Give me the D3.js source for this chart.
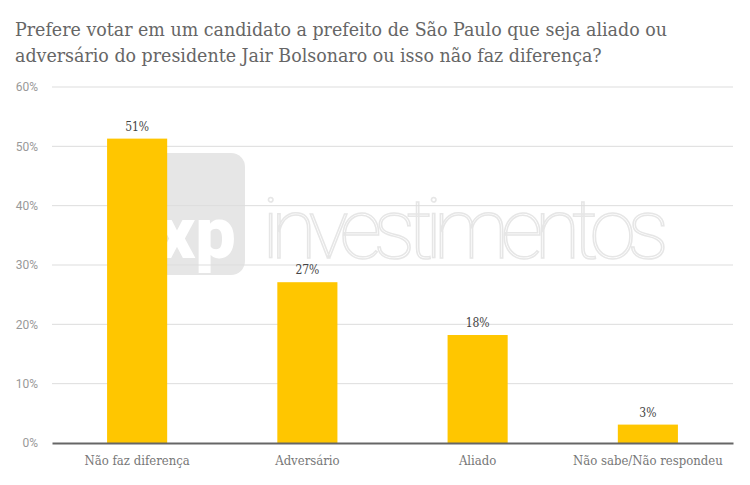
<!DOCTYPE html>
<html><head><meta charset="utf-8">
<script src="https://cdn.jsdelivr.net/npm/d3@7"></script>
<style>
body{margin:0;background:#fff;}
svg{display:block;}
</style></head>
<body>
<svg id="chart" width="750" height="485"></svg>
<script>
const titleLines = ["Prefere votar em um candidato a prefeito de São Paulo que seja aliado ou",
                    "adversário do presidente Jair Bolsonaro ou isso não faz diferença?"];
const categories = ["Não faz diferença", "Adversário", "Aliado", "Não sabe/Não respondeu"];
const values = [51.3, 27.1, 18.2, 3.1];
const valueLabels = ["51%", "27%", "18%", "3%"];
const yTicks = [0, 10, 20, 30, 40, 50, 60];

const serif = "'DejaVu Serif Condensed', 'DejaVu Serif', serif";
const svg = d3.select("#chart");
const m = {left: 52, right: 17, top: 87, bottom: 42};
const W = 750, H = 485;

const x = d3.scaleBand().domain(categories).range([m.left, W - m.right]).paddingInner(0.647).paddingOuter(0.3235);
const y = d3.scaleLinear().domain([0, 60]).range([H - m.bottom, m.top]);

// title
svg.append("g").selectAll("text").data(titleLines).join("text")
  .attr("x", 15).attr("y", (d, i) => 36 + i * 26)
  .attr("font-family", serif).attr("font-size", 19.4).attr("fill", "#666")
  .text(d => d);

// watermark
const wm = svg.append("g");
wm.append("rect").attr("x", 150).attr("y", 153).attr("width", 95).attr("height", 122).attr("rx", 14).attr("fill", "#e6e6e6");
wm.append("text").attr("x", 197).attr("y", 258).attr("text-anchor", "middle")
  .attr("font-family", "Roboto, sans-serif").attr("font-weight", 900).attr("font-size", 72).attr("fill", "#fff").text("xp");
wm.append("text").attr("x", 262).attr("y", 258)
  .attr("font-family", "Roboto, sans-serif").attr("font-weight", 100).attr("font-size", 84)
  .attr("fill", "none").attr("stroke", "#e6e6e6").attr("stroke-width", 1.5).attr("textLength", 407)
  .text("investimentos");

// grid
svg.append("g").selectAll("line").data(yTicks.filter(d => d > 0)).join("line")
  .attr("x1", m.left).attr("x2", W - m.right)
  .attr("y1", d => y(d)).attr("y2", d => y(d))
  .attr("stroke", "#ddd").attr("stroke-width", 1);

// y axis labels
const yAxis = d3.axisLeft(y).tickValues(yTicks).tickFormat(d => d + "%").tickSize(0).tickPadding(14);
const ya = svg.append("g").attr("transform", `translate(${m.left},0)`).call(yAxis);
ya.select(".domain").remove();
ya.selectAll("text").attr("font-family", "Roboto, sans-serif").attr("font-size", 12).attr("fill", "#999");

// bars
svg.append("g").selectAll("rect").data(values).join("rect")
  .attr("x", (d, i) => x(categories[i])).attr("width", x.bandwidth())
  .attr("y", d => y(d)).attr("height", d => y(0) - y(d))
  .attr("fill", "#ffc600");

// value labels
svg.append("g").selectAll("text").data(values).join("text")
  .attr("x", (d, i) => x(categories[i]) + x.bandwidth() / 2)
  .attr("y", d => y(d) - 8).attr("text-anchor", "middle")
  .attr("font-family", serif).attr("font-size", 12).attr("fill", "#444")
  .text((d, i) => valueLabels[i]);

// x axis
const xAxis = d3.axisBottom(x).tickSize(0).tickPadding(13);
const xa = svg.append("g").attr("transform", `translate(0,${y(0)})`).call(xAxis);
xa.select(".domain").attr("stroke", "#666").attr("stroke-width", 2);
xa.selectAll("text").attr("font-family", serif).attr("font-size", 13).attr("fill", "#777");
</script>
</body></html>
